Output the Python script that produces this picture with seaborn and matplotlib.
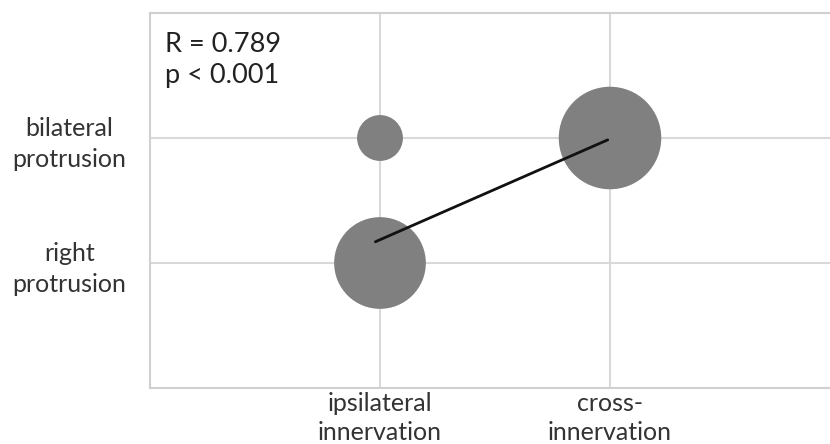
import numpy as np
import pandas as pd
import seaborn as sns
from matplotlib import pyplot as plt

# bubble data
innervation = ['ipsilateral', 'ipsilateral', 'cross']
protrusion = ['bilateral', 'right', 'bilateral']
x_pos = [1, 1, 2]
y_pos = [2, 1, 2]
counts = [1, 4, 5]

# regression line end points
fit_x = [0.98, 1.99]
fit_y = [1.17, 1.985]

x_ticks = [1, 2]
x_labels = ['ipsilateral\ninnervation', 'cross-\ninnervation']
y_ticks = [1, 2]
y_labels = ['right\nprotrusion', 'bilateral\nprotrusion']
stats_text = 'R = 0.789\np < 0.001'

sns.set_theme(style='white')
plt.rcParams['font.family'] = ['Lato', 'DejaVu Sans']

df = pd.DataFrame({'x': x_pos, 'y': y_pos, 'n': counts,
                   'innervation': innervation, 'protrusion': protrusion})

fig = plt.figure(figsize=(8.3, 4.44), dpi=100)
ax = fig.add_axes([150 / 830, 1 - 388 / 444, 690 / 830, 375 / 444])

sns.scatterplot(data=df, x='x', y='y', size='n',
                sizes={n: 1090 * n for n in counts},
                color='#808080', edgecolor='none', alpha=1, legend=False,
                ax=ax, zorder=3)
ax.plot(fit_x, fit_y, color='#111111', lw=2, zorder=4)

ax.set_xlim(0, 3)
ax.set_ylim(0, 3)
ax.set_xticks(x_ticks)
ax.set_xticklabels(x_labels, fontsize=18, color='#333333', linespacing=1.3)
ax.set_yticks(y_ticks)
ax.set_yticklabels(y_labels, fontsize=18, color='#333333', multialignment='center',
                   linespacing=1.4)
ax.tick_params(axis='x', length=0, pad=3)
ax.tick_params(axis='y', length=0, pad=17)
ax.set_xlabel('')
ax.set_ylabel('')

ax.grid(True, color='#d9d9d9', lw=1.5, zorder=0)
ax.set_axisbelow(True)
for side in ['left', 'bottom', 'top']:
    ax.spines[side].set_color('#d0d0d0')
    ax.spines[side].set_linewidth(1.5)
ax.spines['right'].set_visible(False)

ax.text(0.022, 0.95, stats_text, transform=ax.transAxes, fontsize=19.5,
        color='#222222', va='top', ha='left', linespacing=1.3)

fig.savefig('out.png', dpi=100)
